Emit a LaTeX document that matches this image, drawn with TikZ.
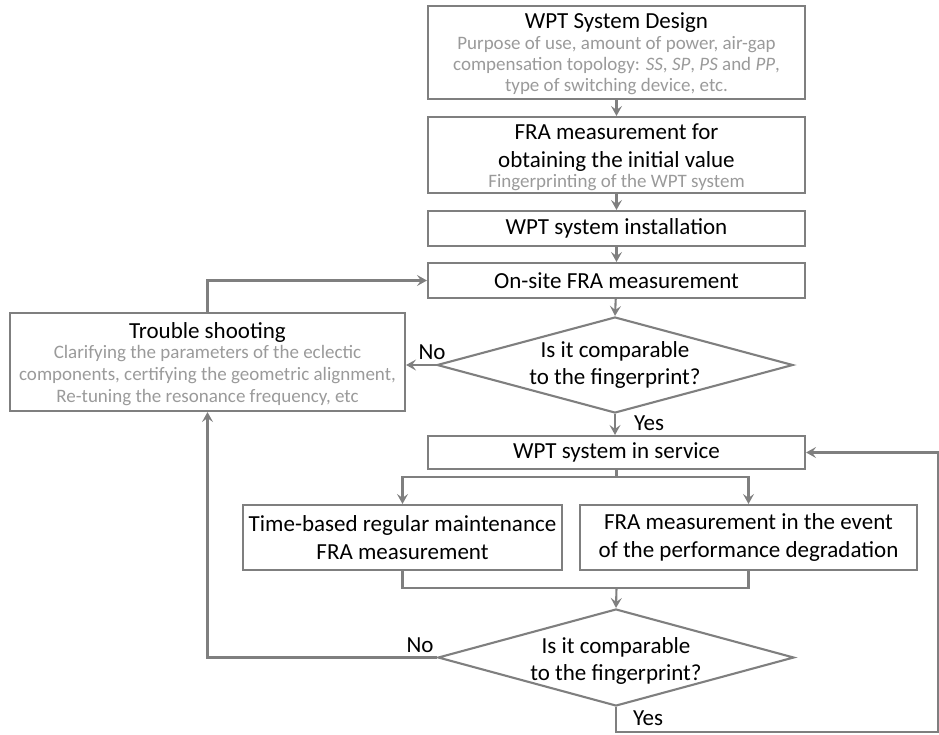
\documentclass[tikz,border=0pt]{standalone}
\usepackage{fontspec}
\setmainfont{Carlito}
\usetikzlibrary{shapes.geometric,arrows.meta}
\definecolor{linegray}{HTML}{7F7F7F}
\definecolor{textgray}{HTML}{9A9A9A}
\begin{document}
\begin{tikzpicture}[x=1pt,y=-1pt,
  box/.style={draw=linegray, line width=2.1pt, align=center, inner sep=0pt,
              font=\fontsize{23}{28}\selectfont, text=black},
  mainbox/.style={box, minimum width=377pt},
  decision/.style={draw=linegray, line width=2.1pt, diamond, inner sep=0pt,
              minimum width=356pt, minimum height=96pt},
  qtext/.style={align=center, inner sep=0pt, font=\fontsize{23}{27}\selectfont},
  lbl/.style={inner sep=0pt, font=\fontsize{23}{28}\selectfont},
  conn/.style={draw=linegray, line width=2.1pt},
  arr/.style={conn, -{Stealth[length=10pt,width=11pt,inset=4pt]}}
]
\useasboundingbox (0,0) rectangle (939,734);

% main column
\node[mainbox, minimum height=93pt, text=textgray, font=\fontsize{19}{21}\selectfont] (b1) at (616.5,52.5)
  {{\fontsize{23}{21}\selectfont\color{black}\rule{0pt}{19pt}WPT System Design}\\
   Purpose of use, amount of power, air-gap\\
   compensation topology: \textit{SS}, \textit{SP}, \textit{PS} and \textit{PP},\\
   type of switching device, etc.};
\node[mainbox, minimum height=76pt] (b2) at (616.5,155)
  {\rule{0pt}{20pt}FRA measurement for\\obtaining the initial value\\[-8.5pt]
   {\fontsize{19}{21}\selectfont\color{textgray}Fingerprinting of the WPT system}};
\node[mainbox, minimum height=35pt] (b3) at (616.5,228.5) {WPT system installation};
\node[mainbox, minimum height=35pt] (b4) at (616.5,280.5) {On-site FRA measurement};

\node[decision] (d1) at (615,365) {};
\node[qtext] (q1) at (615,365) {Is it comparable\\to the fingerprint?};

\node[box, minimum width=395pt, minimum height=98pt, text=textgray, font=\fontsize{19}{22}\selectfont] (ts) at (207.5,362)
  {{\fontsize{23}{22}\selectfont\color{black}\rule{0pt}{21pt}Trouble shooting}\\[-2pt]
   Clarifying the parameters of the eclectic\\
   components, certifying the geometric alignment,\\
   Re-tuning the resonance frequency, etc};

\node[mainbox, minimum height=33pt] (b5) at (616.5,452.5) {WPT system in service};

\node[box, minimum width=319pt, minimum height=65pt] (b6) at (402.5,537.5)
  {Time-based regular maintenance\\FRA measurement};
\node[box, minimum width=337pt, minimum height=65pt] (b7) at (748.5,537.5)
  {FRA measurement in the event\\of the performance degradation};

\node[decision, minimum height=97pt] (d2) at (616,657.5) {};
\node[qtext] (q2) at (616,661) {Is it comparable\\to the fingerprint?};

% labels
\node[lbl] (no1) at (432,352) {No};
\node[lbl] (yes1) at (649,423) {Yes};
\node[lbl] (no2) at (420,645) {No};
\node[lbl] (yes2) at (648,718) {Yes};

% coordinates
\coordinate (split) at (616.5,477);
\coordinate (join) at (616.5,588);
\coordinate (br) at (938,732);

% connectors
\draw[arr] (b1) -- (b2);
\draw[arr] (b2) -- (b3);
\draw[arr] (b3) -- (b4);
\draw[arr] (b4) -- (d1.north);
\draw[arr] (d1.west) -- (ts.east |- d1.west);
\draw[arr] (d1.south) -- (b5.north -| d1.south);
\draw[arr] (ts.north) |- (b4.west);
\draw[conn] (b5.south) -- (split);
\draw[arr] (split) -| (b6.north);
\draw[arr] (split) -| (b7.north);
\draw[conn] (b6.south) |- (join);
\draw[conn] (b7.south) |- (join);
\draw[arr] (join) -- (d2.north);
\draw[arr] (d2.west) -| (ts.south);
\draw[arr] (d2.south) |- (br) |- (b5.east);
\end{tikzpicture}
\end{document}
